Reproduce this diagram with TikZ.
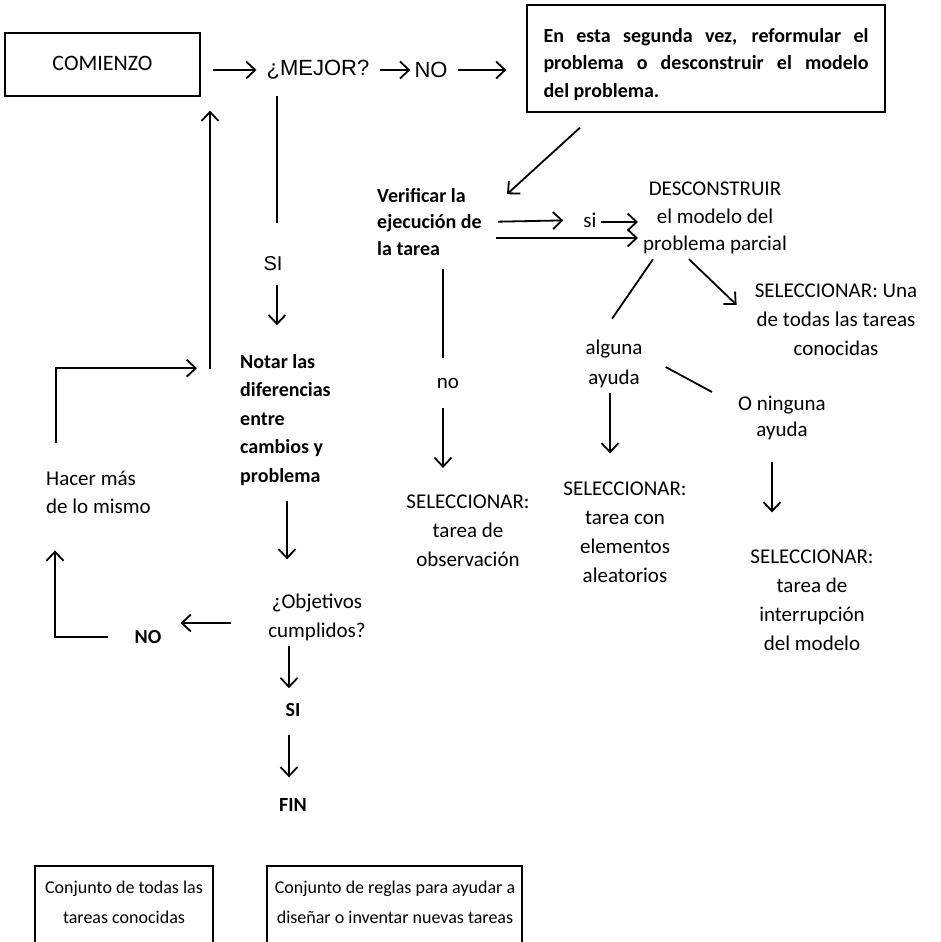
\documentclass[tikz,border=0pt]{standalone}
\usepackage{fontspec}
\setmainfont{Carlito}
\newfontfamily\arialfont{Liberation Sans}
\usetikzlibrary{arrows.meta,positioning}

\begin{document}
\begin{tikzpicture}
			[
				x=1pt, y=-1pt,
				align=center,
				inner sep=0pt,
				plain/.style={font=\fontsize{21}{29}\selectfont},
				boldtext/.style={font=\fontsize{20}{28.5}\selectfont\bfseries, align=left, anchor=west},
				arial/.style={font=\fontsize{22}{26}\arialfont},
				box/.style={draw, line width=1.3pt},
				frame/.style={line width=1.3pt},
				arrow/.style={-{Straight Barb[length=9pt,width=17pt]}, line width=1.8pt},
				line/.style={line width=1.8pt}
			]
			\useasboundingbox (0,0) rectangle (940,942);

			% boxes
			\node[box, minimum width=195pt, minimum height=63pt, font=\fontsize{22}{26}\selectfont] (comienzo) at (102.5,64.5) {\raisebox{3pt}{COMIENZO}};
			\node[box, minimum width=358pt, minimum height=107pt, font=\fontsize{20}{27.5}\selectfont\bfseries] (reform) at (706,58.5)
				{\parbox{325pt}{\vspace{12pt}\makebox[325pt][s]{En esta segunda vez, reformular el}\\\makebox[325pt][s]{problema o desconstruir el modelo}\\del problema.}};
			\node[plain, font=\fontsize{18}{30}\selectfont] (conjA) at (124,902) {Conjunto de todas las\\tareas conocidas};
			\node[plain, font=\fontsize{18}{30}\selectfont] (conjB) at (395,902) {Conjunto de reglas para ayudar a\\diseñar o inventar nuevas tareas};
			\draw[frame] (35,942) |- (213,866) -- (213,942);
			\draw[frame] (267,942) |- (522,866) -- (522,942);

			% labels
			\node[arial] (mejor) at (318,70) {¿MEJOR?};
			\node[arial] (noA) at (431,70) {NO};
			\node[arial, font=\fontsize{20}{24}\arialfont] (siA) at (273,264) {SI};
			\node[boldtext] (notar) at (240,420) {Notar las\\diferencias\\entre\\cambios y\\problema};
			\node[plain, align=left, anchor=west, font=\fontsize{21}{28}\selectfont] (hacer) at (46,492) {Hacer más\\de lo mismo};
			\node[plain] (obj) at (317,617) {¿Objetivos\\cumplidos?};
			\node[boldtext, anchor=center] (noB) at (148,637) {NO};
			\node[boldtext, anchor=center] (siB) at (293,710) {SI};
			\node[boldtext, anchor=center] (fin) at (293,805) {FIN};
			\node[boldtext, font=\fontsize{20}{26.5}\selectfont\bfseries] (verif) at (377,222) {Verificar la\\ejecución de\\la tarea};
			\node[plain] (si) at (590,220) {si};
			\node[plain, font=\fontsize{21}{27.5}\selectfont] (desc) at (715,218) {DESCONSTRUIR\\el modelo del\\problema parcial};
			\node[plain] (no) at (448,383) {no};
			\node[plain] (selObs) at (468,531) {SELECCIONAR:\\tarea de\\observación};
			\node[plain, font=\fontsize{21}{30}\selectfont] (alguna) at (614,364) {alguna\\ayuda};
			\node[plain, font=\fontsize{21}{26}\selectfont] (ninguna) at (782,418) {O ninguna\\ayuda};
			\node[plain] (selUna) at (836,320) {SELECCIONAR: Una\\de todas las tareas\\conocidas};
			\node[plain] (selAlea) at (625,532) {SELECCIONAR:\\tarea con\\elementos\\aleatorios};
			\node[plain] (selInt) at (812,600) {SELECCIONAR:\\tarea de\\interrupción\\del modelo};

			% top row
			\draw[arrow, shorten <=12pt, shorten >=10pt] (comienzo.east |- mejor) -- (mejor.west);
			\draw[arrow, shorten <=10pt, shorten >=4pt] (mejor.east) -- (noA.west);
			\draw[arrow, shorten <=10pt, shorten >=20pt] (noA.east) -- (reform.west |- noA);
			\draw[arrow] ([xshift=-126pt,yshift=-15pt]reform.south) -- ([xshift=130pt,yshift=-6pt]verif.north west);

			% verificar branch
			\draw[arrow, shorten <=16pt, shorten >=20pt] (verif.east) -- (si.west);
			\draw[arrow, shorten <=4pt, shorten >=5pt] ([yshift=-2pt]si.east) -- ([yshift=-2pt]si.east -| desc.west);
			\draw[arrow, shorten <=14pt, shorten >=5pt] ([yshift=-16pt]verif.east) -- ([yshift=-16pt]verif.east -| desc.west);
			\draw[line, shorten <=13pt, shorten >=20pt] ([xshift=-5pt]no.north |- verif.south) -- ([xshift=-5pt]no.north);
			\draw[arrow, shorten <=20pt, shorten >=27pt] ([xshift=-5pt]no.south) -- ([xshift=-5pt]no.south |- selObs.north);

			% desconstruir branch
			\draw[line] ([xshift=-62pt,yshift=-5pt]desc.south) -- ([xshift=-2pt,yshift=21pt]alguna.north);
			\draw[arrow] ([xshift=-26pt,yshift=-5pt]desc.south) -- ([xshift=-18pt,yshift=-21pt]selUna.north west);
			\draw[line] ([xshift=23pt,yshift=-3pt]alguna.east) -- ([xshift=-26pt,yshift=26pt]ninguna.west);
			\draw[arrow, shorten <=5pt, shorten >=28pt] ([xshift=-4pt]alguna.south) -- ([xshift=-4pt]alguna.south |- selAlea.north);
			\draw[arrow, shorten <=22pt, shorten >=37pt] ([xshift=-10pt]ninguna.south) -- ([xshift=-10pt]ninguna.south |- selInt.north);

			% left loop
			\draw[line, shorten <=16pt, shorten >=34pt] ([xshift=4pt]siA.north |- mejor.south) -- ([xshift=4pt]siA.north);
			\draw[arrow, shorten <=14pt, shorten >=29pt] ([xshift=4pt]siA.south) -- ([xshift=4pt]siA.south |- notar.north);
			\draw[arrow, shorten >=14pt] ([xshift=-30pt,yshift=-15pt]notar.north west) -- ([xshift=-30pt]notar.north west |- comienzo.south);
			\draw[arrow] ([xshift=10pt,yshift=28pt]hacer.north west) |- ([xshift=-43pt,yshift=-14pt]notar.north west);
			\draw[arrow, shorten <=15pt, shorten >=34pt] ([xshift=47pt]notar.south west) -- ([xshift=47pt]notar.south west |- obj.north);
			\draw[arrow, shorten <=37pt, shorten >=19pt] ([yshift=-6pt]obj.west) -- ([yshift=-6pt]obj.west -| noB.east);
			\draw[arrow] ([xshift=-26pt]noB.west) -| ([xshift=9pt,yshift=-37pt]hacer.south west);
			\draw[arrow, shorten <=5pt, shorten >=15pt] ([xshift=-4pt]siB.north |- obj.south) -- ([xshift=-4pt]siB.north);
			\draw[arrow, shorten <=18pt, shorten >=21pt] ([xshift=-4pt]siB.south) -- ([xshift=-4pt]fin.north);

		\end{tikzpicture}
\end{document}
